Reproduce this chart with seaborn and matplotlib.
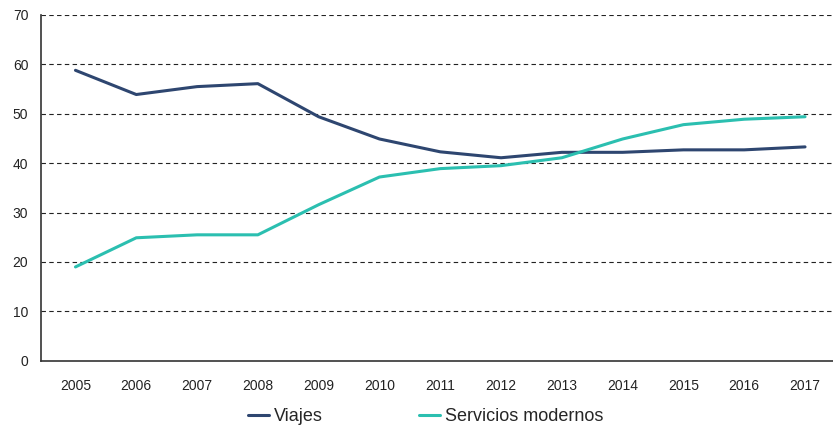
import matplotlib
matplotlib.use("Agg")
import matplotlib.pyplot as plt
import seaborn as sns
import pandas as pd

years = list(range(2005, 2018))
viajes = [58.8, 53.9, 55.5, 56.1, 49.4, 44.9, 42.3, 41.1, 42.2, 42.2, 42.7, 42.7, 43.3]
servicios = [19.0, 24.9, 25.5, 25.5, 31.6, 37.2, 38.9, 39.5, 41.1, 44.9, 47.8, 48.9, 49.4]
series_names = ["Viajes", "Servicios modernos"]
palette = ["#2E4670", "#2BBFB0"]

df = pd.DataFrame({
    "year": years * 2,
    "value": viajes + servicios,
    "serie": [series_names[0]] * len(years) + [series_names[1]] * len(years),
})

sns.set_style("white")
plt.rcParams["font.family"] = ["Liberation Sans", "DejaVu Sans"]

fig = plt.figure(figsize=(8.33, 4.28), dpi=100)
ax = fig.add_axes([0.049, 0.157, 0.951, 0.808])

sns.lineplot(data=df, x="year", y="value", hue="serie", palette=palette,
             linewidth=2.2, ax=ax, legend=False)

ax.set_xlim(2004.43, 2017.46)
ax.set_ylim(0, 70)
ax.set_xticks(years)
ax.set_xticklabels([str(y) for y in years], fontsize=10)
ax.set_yticks(range(0, 71, 10))
ax.set_yticklabels([str(v) for v in range(0, 71, 10)], fontsize=10)
ax.set_xlabel("")
ax.set_ylabel("")

for v in range(10, 71, 10):
    ax.axhline(v, color="#222222", linestyle=(0, (4, 3)), linewidth=0.8, zorder=0)

for s in ["top", "right"]:
    ax.spines[s].set_visible(False)
for s in ["left", "bottom"]:
    ax.spines[s].set_color("#333333")
    ax.spines[s].set_linewidth(1.2)

ax.tick_params(axis="both", direction="out", length=5, width=1, color="#333333",
               colors="#222222", pad=8)
ax.tick_params(axis="y", pad=4)

handles = [plt.Line2D([0], [0], color=c, linewidth=2.2) for c in palette]
fig.legend(handles, series_names, loc="lower left", bbox_to_anchor=(0.278, -0.032),
           ncol=2, frameon=False, fontsize=13, handlelength=1.2, handletextpad=0.25,
           columnspacing=5.3)

fig.savefig("out.png", dpi=100)
